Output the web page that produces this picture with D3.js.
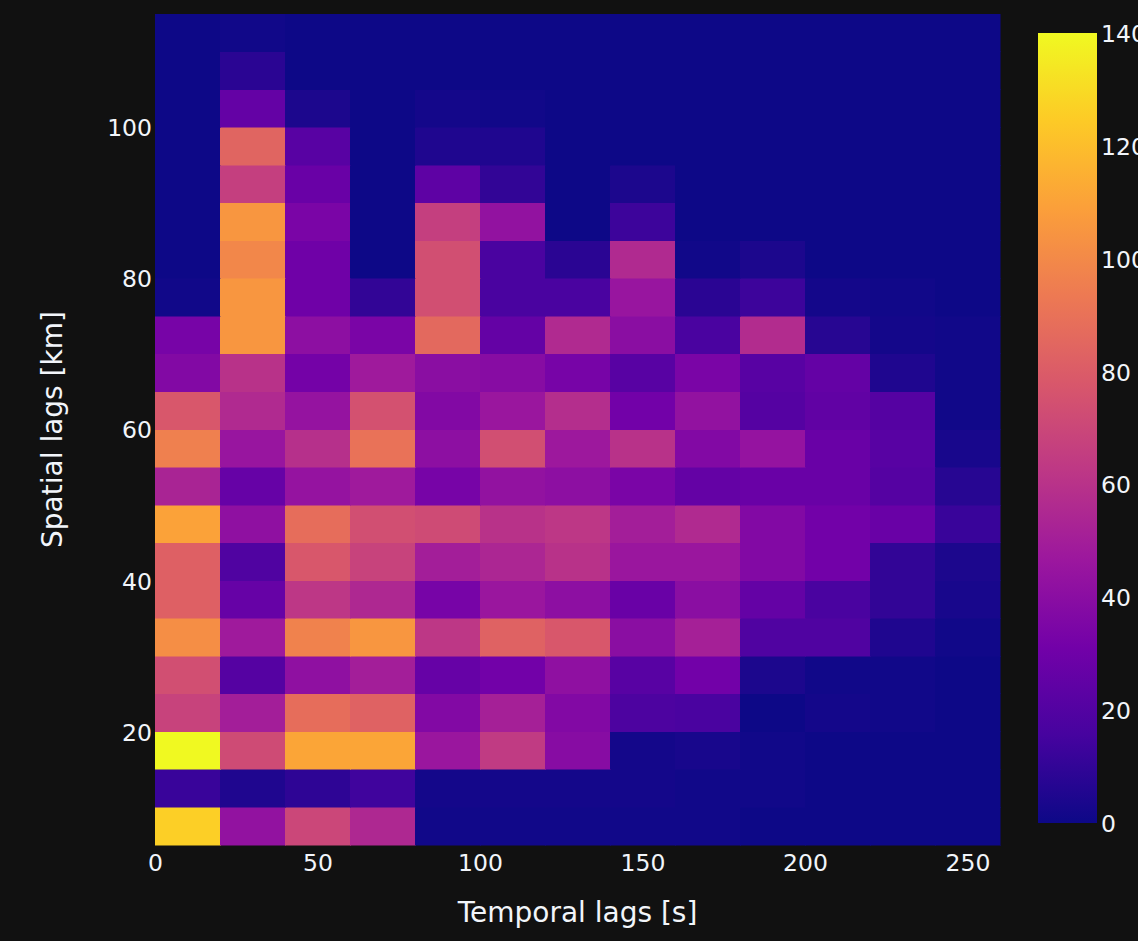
<!DOCTYPE html>
<html><head><meta charset="utf-8">
<script src="https://cdn.jsdelivr.net/npm/d3@7"></script>
<style>html,body{margin:0;padding:0;background:#111111;overflow:hidden;}</style>
</head><body>
<script>
// ---- data ----
const xBinStarts = [0,20,40,60,80,100,120,140,160,180,200,220,240];
const xBinWidth = 20;
const yBinStarts = [5,10,15,20,25,30,35,40,45,50,55,60,65,70,75,80,85,90,95,100,105,110];
const yBinHeight = 5;
// counts[row][col]; row 0 = 5-10 km (bottom), last row = 110-115 km (top)
const counts = [
  [126, 43, 70, 55,  1,  1,  1,  1,  1,  0,  0,  0,  0],
  [ 12,  5,  9, 14,  2,  2,  2,  2,  1,  1,  0,  0,  0],
  [140, 72,111,111, 46, 64, 39,  2,  3,  1,  0,  0,  0],
  [ 68, 50, 88, 83, 37, 51, 37, 18, 17,  0,  2,  1,  0],
  [ 74, 21, 42, 50, 27, 31, 42, 22, 31,  4,  1,  1,  0],
  [102, 48, 97,105, 62, 83, 78, 40, 51, 19, 19,  5,  1],
  [ 82, 27, 62, 55, 33, 46, 41, 28, 40, 26, 17, 10,  3],
  [ 82, 19, 78, 68, 50, 54, 60, 46, 46, 37, 31, 10,  4],
  [110, 42, 88, 74, 72, 60, 62, 50, 56, 37, 31, 28, 12],
  [ 53, 27, 44, 48, 33, 43, 41, 34, 26, 28, 28, 21,  7],
  [ 96, 45, 59, 90, 41, 74, 47, 60, 37, 44, 28, 22,  3],
  [ 78, 56, 44, 75, 37, 46, 58, 31, 43, 21, 25, 21,  1],
  [ 37, 60, 32, 48, 40, 39, 33, 22, 34, 22, 26,  5,  1],
  [ 33,105, 41, 34, 86, 26, 56, 40, 17, 57,  7,  2,  1],
  [  1,105, 30, 10, 74, 17, 17, 45,  8, 13,  2,  1,  0],
  [  0, 99, 30,  0, 74, 17,  8, 56,  1,  4,  0,  0,  0],
  [  0,105, 34,  0, 66, 43,  0, 13,  0,  0,  0,  0,  0],
  [  0, 66, 28,  0, 24, 10,  0,  4,  0,  0,  0,  0,  0],
  [  0, 84, 22,  0,  5,  5,  0,  0,  0,  0,  0,  0,  0],
  [  0, 26,  4,  0,  2,  1,  0,  0,  0,  0,  0,  0,  0],
  [  0,  8,  0,  0,  0,  0,  0,  0,  0,  0,  0,  0,  0],
  [  0,  1,  0,  0,  0,  0,  0,  0,  0,  0,  0,  0,  0]
];
const xTicks = [0,50,100,150,200,250];
const yTicks = [20,40,60,80,100];
const colorTicks = [0,20,40,60,80,100,120,140];
const colorMax = 140;
const plasmaStops = ['#0d0887','#46039f','#7201a8','#9c179e','#bd3786','#d8576b','#ed7953','#fb9f3a','#fdca26','#f0f921'];
const xTitle = "Temporal lags [s]";
const yTitle = "Spatial lags [km]";

// ---- layout ----
const W = 1138, H = 941;
const plot = {left:155, right:1000, top:14, bottom:845};
const cbar = {left:1038, right:1097, top:33, bottom:823};
const textColor = '#f2f5fa';
const font = '"DejaVu Sans", Verdana, sans-serif';
const tickSize = 23.5;

const svg = d3.select('body').append('svg')
  .attr('width', W).attr('height', H)
  .style('display','block');
svg.append('rect').attr('width', W).attr('height', H).attr('fill', '#111111');

const x = d3.scaleLinear().domain([0, 260]).range([plot.left, plot.right]);
const y = d3.scaleLinear().domain([5, 115]).range([plot.bottom, plot.top]);
const color = d3.scaleLinear()
  .domain(plasmaStops.map((_, i) => i * colorMax / (plasmaStops.length - 1)))
  .range(plasmaStops)
  .interpolate(d3.interpolateRgb)
  .clamp(true);

const cells = [];
counts.forEach((row, ri) => row.forEach((v, ci) => cells.push({x0: xBinStarts[ci], y0: yBinStarts[ri], v})));

svg.append('g').selectAll('rect').data(cells).join('rect')
  .attr('x', d => x(d.x0))
  .attr('y', d => y(d.y0 + yBinHeight))
  .attr('width', d => x(d.x0 + xBinWidth) - x(d.x0))
  .attr('height', d => y(d.y0) - y(d.y0 + yBinHeight))
  .attr('fill', d => color(d.v))
  .attr('stroke', d => color(d.v))
  .attr('stroke-width', 0.5)
  .attr('shape-rendering', 'crispEdges');

// x axis
const xAxis = svg.append('g').attr('transform', `translate(0,${plot.bottom})`)
  .call(d3.axisBottom(x).tickValues(xTicks).tickSize(0).tickPadding(0).tickFormat(d3.format('d')));
xAxis.select('.domain').remove();
xAxis.selectAll('text').attr('fill', textColor).attr('font-family', font).attr('font-size', tickSize)
  .attr('dy', null).attr('y', 26).attr('dominant-baseline', 'auto');

// y axis
const yAxis = svg.append('g').attr('transform', `translate(${plot.left},0)`)
  .call(d3.axisLeft(y).tickValues(yTicks).tickSize(0).tickPadding(3).tickFormat(d3.format('d')));
yAxis.select('.domain').remove();
yAxis.selectAll('text').attr('fill', textColor).attr('font-family', font).attr('font-size', tickSize)
  .attr('dy', '0.36em');

// titles
svg.append('text').attr('x', (plot.left + plot.right) / 2).attr('y', 922)
  .attr('text-anchor', 'middle').attr('fill', textColor).attr('font-family', font).attr('font-size', 28)
  .text(xTitle);
svg.append('text').attr('transform', `translate(62,${(plot.top + plot.bottom) / 2}) rotate(-90)`)
  .attr('text-anchor', 'middle').attr('fill', textColor).attr('font-family', font).attr('font-size', 28)
  .text(yTitle);

// colorbar
const defs = svg.append('defs');
const grad = defs.append('linearGradient').attr('id', 'cbgrad')
  .attr('x1', 0).attr('y1', 1).attr('x2', 0).attr('y2', 0);
grad.selectAll('stop').data(plasmaStops).join('stop')
  .attr('offset', (d, i) => i / (plasmaStops.length - 1))
  .attr('stop-color', d => d);
svg.append('rect').attr('x', cbar.left).attr('y', cbar.top)
  .attr('width', cbar.right - cbar.left).attr('height', cbar.bottom - cbar.top)
  .attr('fill', 'url(#cbgrad)');
const cy = d3.scaleLinear().domain([0, colorMax]).range([cbar.bottom, cbar.top]);
const cAxis = svg.append('g').attr('transform', `translate(${cbar.right},0)`)
  .call(d3.axisRight(cy).tickValues(colorTicks).tickSize(0).tickPadding(4).tickFormat(d3.format('d')));
cAxis.select('.domain').remove();
cAxis.selectAll('text').attr('fill', textColor).attr('font-family', font).attr('font-size', tickSize)
  .attr('dy', '0.36em');
</script>
</body></html>
